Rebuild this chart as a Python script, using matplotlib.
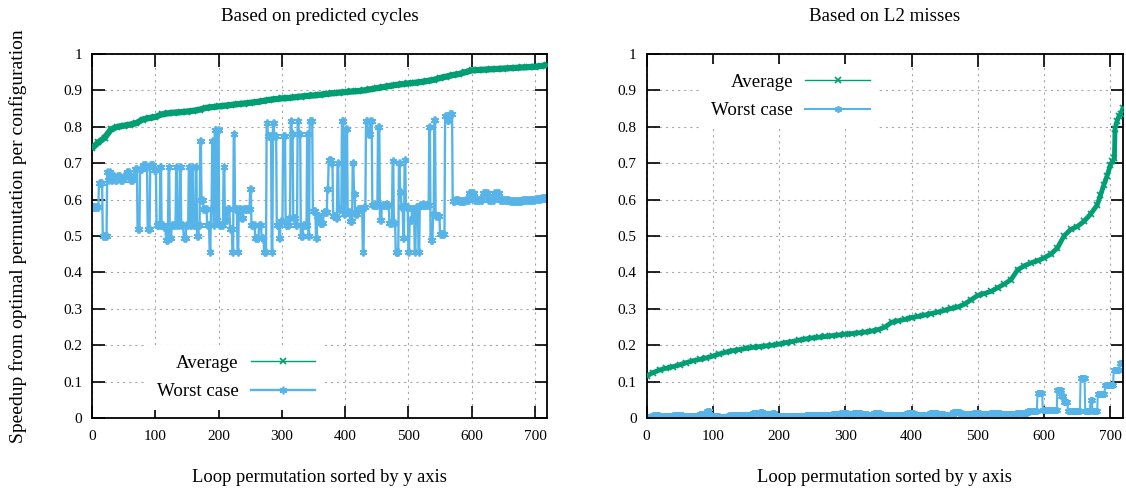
import matplotlib
matplotlib.use('Agg')
import matplotlib.pyplot as plt
import numpy as np

plt.rcParams['font.family'] = ['Liberation Serif', 'DejaVu Serif']

green = '#009e73'
blue = '#56b4e9'

n_perm = 720

# average speedup, predicted cycles (sampled every 10 permutations)
avg_cyc_x = list(range(0, 720, 10)) + [719]
avg_cyc = [0.741, 0.757, 0.770, 0.793, 0.800, 0.803, 0.806, 0.810, 0.820, 0.824,
           0.827, 0.834, 0.837, 0.839, 0.840, 0.842, 0.844, 0.847, 0.852, 0.854,
           0.856, 0.858, 0.860, 0.862, 0.864, 0.866, 0.868, 0.871, 0.874, 0.876,
           0.878, 0.879, 0.881, 0.883, 0.885, 0.886, 0.888, 0.890, 0.892, 0.894,
           0.895, 0.897, 0.898, 0.900, 0.903, 0.906, 0.909, 0.912, 0.915, 0.917,
           0.919, 0.921, 0.923, 0.926, 0.929, 0.934, 0.938, 0.942, 0.945, 0.950,
           0.955, 0.956, 0.957, 0.958, 0.959, 0.960, 0.961, 0.962, 0.963, 0.964,
           0.965, 0.967, 0.970]

# worst case, predicted cycles: run starts and values
worst_cyc_start = [0, 11, 17, 24, 26, 28, 30, 33, 36, 40, 45, 50, 55, 60, 65, 68, 72, 76, 80, 86,
                   88, 92, 98, 102, 108, 110, 113, 117, 121, 123, 126, 133, 135, 139, 141, 145, 149, 153, 155, 158,
                   160, 164, 166, 169, 171, 173, 176, 182, 186, 188, 190, 192, 194, 197, 199, 201, 208, 210, 214, 218,
                   222, 224, 226, 230, 232, 236, 239, 250, 252, 258, 264, 268, 272, 276, 278, 284, 286, 288, 292, 296,
                   298, 302, 306, 312, 314, 316, 318, 322, 325, 327, 330, 334, 340, 342, 344, 349, 354, 356, 360, 366,
                   372, 374, 378, 381, 386, 388, 390, 395, 398, 401, 404, 408, 412, 414, 416, 420, 428, 430, 433, 436,
                   440, 443, 452, 455, 458, 470, 475, 477, 480, 485, 487, 489, 492, 494, 496, 500, 502, 506, 510, 512,
                   516, 518, 528, 533, 535, 539, 541, 543, 550, 558, 561, 565, 570, 574, 580, 590, 596, 604, 618, 626,
                   636, 644, 660, 680, 700, 710]
worst_cyc_val = [0.58, 0.645, 0.50, 0.675, 0.655, 0.675, 0.655, 0.665, 0.655, 0.665, 0.655, 0.665, 0.675, 0.655, 0.665, 0.685, 0.52, 0.685, 0.695, 0.69,
                 0.52, 0.695, 0.68, 0.53, 0.69, 0.53, 0.525, 0.49, 0.69, 0.495, 0.53, 0.69, 0.53, 0.69, 0.53, 0.495, 0.53, 0.69, 0.53, 0.69,
                 0.53, 0.69, 0.50, 0.53, 0.76, 0.60, 0.575, 0.53, 0.455, 0.575, 0.76, 0.53, 0.79, 0.545, 0.79, 0.53, 0.69, 0.545, 0.575, 0.52,
                 0.455, 0.78, 0.575, 0.455, 0.575, 0.55, 0.575, 0.63, 0.53, 0.495, 0.53, 0.495, 0.455, 0.81, 0.775, 0.455, 0.81, 0.775, 0.53, 0.495,
                 0.54, 0.775, 0.53, 0.55, 0.815, 0.78, 0.55, 0.53, 0.815, 0.78, 0.50, 0.53, 0.78, 0.50, 0.815, 0.57, 0.495, 0.555, 0.535, 0.565,
                 0.63, 0.71, 0.70, 0.555, 0.55, 0.70, 0.575, 0.815, 0.56, 0.795, 0.565, 0.54, 0.70, 0.615, 0.56, 0.575, 0.455, 0.58, 0.815, 0.78,
                 0.815, 0.585, 0.80, 0.545, 0.585, 0.535, 0.705, 0.535, 0.455, 0.70, 0.62, 0.58, 0.495, 0.71, 0.58, 0.455, 0.545, 0.575, 0.455, 0.58,
                 0.455, 0.585, 0.585, 0.80, 0.49, 0.56, 0.82, 0.555, 0.505, 0.83, 0.82, 0.835, 0.595, 0.60, 0.595, 0.60, 0.618, 0.60, 0.618, 0.60,
                 0.618, 0.60, 0.597, 0.60, 0.602, 0.605]

# average speedup, L2 misses
avg_l2_x = [0, 10, 20, 30, 40, 50, 60, 70, 80, 90,
            100, 110, 120, 130, 140, 150, 160, 170, 180, 190,
            200, 210, 220, 230, 240, 250, 260, 270, 280, 290,
            300, 310, 320, 330, 340, 350, 360, 370, 380, 390,
            400, 410, 420, 430, 440, 450, 460, 470, 480, 490,
            500, 510, 520, 530, 540, 550, 560, 570, 580, 590,
            600, 610, 620, 630, 640, 650, 660, 670, 680, 685,
            690, 695, 700, 703, 706, 707, 710, 713, 716, 719]
avg_l2 = [0.115, 0.125, 0.132, 0.137, 0.141, 0.146, 0.152, 0.157, 0.161, 0.165,
          0.170, 0.176, 0.181, 0.185, 0.188, 0.191, 0.194, 0.196, 0.198, 0.200,
          0.203, 0.207, 0.210, 0.214, 0.217, 0.220, 0.222, 0.224, 0.226, 0.228,
          0.230, 0.232, 0.234, 0.236, 0.239, 0.243, 0.250, 0.263, 0.267, 0.271,
          0.276, 0.279, 0.283, 0.287, 0.291, 0.296, 0.301, 0.305, 0.313, 0.325,
          0.337, 0.342, 0.348, 0.358, 0.368, 0.380, 0.407, 0.418, 0.426, 0.432,
          0.440, 0.450, 0.467, 0.500, 0.518, 0.526, 0.540, 0.560, 0.585, 0.612,
          0.640, 0.665, 0.695, 0.705, 0.713, 0.795, 0.815, 0.830, 0.835, 0.852]

# worst case, L2 misses: run starts and values
worst_l2_start = [0, 10, 20, 40, 55, 80, 92, 96, 110, 125, 140, 160, 172, 176, 190, 194, 215, 240, 260, 280,
                  292, 304, 312, 324, 334, 343, 354, 375, 393, 404, 428, 440, 450, 463, 474, 493, 504, 519, 535, 558,
                  575, 590, 598, 620, 626, 630, 636, 655, 662, 670, 673, 681, 692, 705, 714]
worst_l2_val = [0.004, 0.008, 0.005, 0.008, 0.005, 0.012, 0.018, 0.006, 0.004, 0.007, 0.009, 0.013, 0.016, 0.010, 0.015, 0.005, 0.006, 0.009, 0.007, 0.010,
                0.013, 0.008, 0.015, 0.012, 0.008, 0.013, 0.007, 0.009, 0.013, 0.008, 0.015, 0.012, 0.008, 0.017, 0.010, 0.015, 0.011, 0.014, 0.010, 0.014,
                0.018, 0.070, 0.022, 0.078, 0.060, 0.045, 0.018, 0.110, 0.018, 0.050, 0.018, 0.067, 0.090, 0.132, 0.150]


def expand(starts, vals):
    counts = np.diff(starts + [n_perm])
    return np.repeat(vals, counts)


perm = np.arange(n_perm)
worst_cyc = expand(worst_cyc_start, worst_cyc_val)
worst_l2 = expand(worst_l2_start, worst_l2_val)

fig = plt.figure(figsize=(11.26, 4.91), dpi=100)
ax1 = fig.add_axes([92 / 1126, 73 / 491, 455 / 1126, 364 / 491])
ax2 = fig.add_axes([646.5 / 1126, 73 / 491, 476.5 / 1126, 364 / 491])

asterisk = (6, 2, 0)


def style(ax):
    ax.set_xlim(0, 719)
    ax.set_ylim(0, 1)
    ax.set_xticks(range(0, 701, 100))
    ax.set_yticks(np.arange(0, 1.01, 0.1))
    ax.set_yticklabels([f'{v:g}' for v in np.round(np.arange(0, 1.01, 0.1), 1)])
    ax.grid(True, color='#a8a8a8', linestyle=(0, (2, 3.5)), linewidth=0.8)
    ax.set_axisbelow(True)
    ax.tick_params(direction='in', length=9, width=1.2, top=True, right=True,
                   labelsize=11)
    ax.tick_params(axis='x', pad=9)
    ax.tick_params(axis='y', pad=7)
    for s in ax.spines.values():
        s.set_linewidth(1.3)
    ax.set_xlabel('Loop permutation sorted by y axis', fontsize=13.3, labelpad=18)


# left: predicted cycles
ax1.plot(avg_cyc_x, avg_cyc, color=green, lw=4.5, solid_capstyle='butt', zorder=3)
ax1.plot(avg_cyc_x, avg_cyc, color=green, lw=1, marker='x', ms=5, mew=1.2,
         label='Average', zorder=3)
ax1.plot(perm, worst_cyc, color=blue, lw=1.7, marker=asterisk, ms=5.5, mew=1.2,
         label='Worst case', zorder=2)
style(ax1)
ax1.set_title('Based on predicted cycles', fontsize=13.7, pad=24)
leg1 = ax1.legend(loc='center right', bbox_to_anchor=(0.532, 0.111), markerfirst=False,
                  numpoints=1, handlelength=3.4, fontsize=13.6, frameon=True,
                  edgecolor='none', facecolor='white', framealpha=1, fancybox=False,
                  labelspacing=0.6, borderpad=0.5, handletextpad=0.65)

# right: L2 misses
ax2.plot(avg_l2_x, avg_l2, color=green, lw=3.5, solid_capstyle='butt', zorder=3)
ax2.plot(avg_l2_x, avg_l2, color=green, lw=1, marker='x', ms=5, mew=1.2,
         label='Average', zorder=3)
ax2.plot(perm, worst_l2, color=blue, lw=1.5, marker=asterisk, ms=5, mew=1.2,
         label='Worst case', zorder=2)
style(ax2)
ax2.set_title('Based on L2 misses', fontsize=13.7, pad=24)
leg2 = ax2.legend(loc='center right', bbox_to_anchor=(0.508, 0.884), markerfirst=False,
                  numpoints=1, handlelength=3.4, fontsize=13.6, frameon=True,
                  edgecolor='none', facecolor='white', framealpha=1, fancybox=False,
                  labelspacing=0.6, borderpad=0.5, handletextpad=0.65)

fig.text(18 / 1126, 1 - 236 / 491, 'Speedup from optimal permutation per configuration',
         rotation=90, ha='center', va='center', fontsize=14)

fig.savefig('out.png', dpi=100)
